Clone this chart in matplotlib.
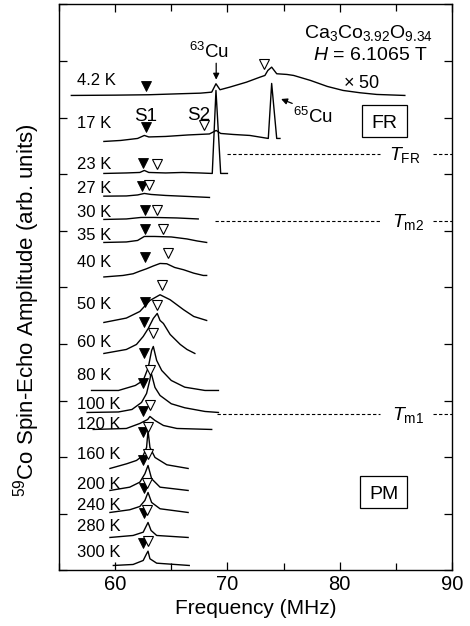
import matplotlib
matplotlib.use('Agg')
import matplotlib.pyplot as plt
from matplotlib.patches import Rectangle
from matplotlib.ticker import MultipleLocator, NullFormatter

plt.rcParams['font.family'] = ['Liberation Sans', 'DejaVu Sans']
plt.rcParams['mathtext.fontset'] = 'custom'
plt.rcParams['mathtext.rm'] = 'Liberation Sans'
plt.rcParams['mathtext.it'] = 'Liberation Sans:italic'
plt.rcParams['mathtext.bf'] = 'Liberation Sans:bold'
plt.rcParams['mathtext.sf'] = 'Liberation Sans'

# ---- spectra: frequency (MHz) and echo amplitude above each trace's baseline ----
temps = ['4.2 K', '17 K', '23 K', '27 K', '30 K', '35 K', '40 K', '50 K', '60 K',
         '80 K', '100 K', '120 K', '160 K', '200 K', '240 K', '280 K', '300 K']
baselines = [475, 432, 397, 373, 351, 328, 293, 248, 217,
             180, 158, 141, 102, 80, 58, 33, 5]

f_4K2 = [56.1, 60.0, 63.0, 65.8, 67.6, 68.6, 68.98, 69.34, 70.2, 71.7, 72.9, 73.34,
         73.6, 73.94, 74.39, 75.3, 75.9, 77.4, 78.9, 80.3, 81.8, 83.3, 85.8]
a_4K2 = [0, 0.3, 0.7, 1.7, 2.3, 3.3, 11.7, 5.7, 8.3, 13.3, 18.3, 20,
         25, 28.3, 21.7, 21, 20, 15, 9, 5, 2.7, 1, 0]

f_17K = [59.0, 60.5, 62.0, 62.6, 63.0, 64.5, 66.5, 68.4, 69.0, 69.4, 70.5, 72.0,
         73.64, 73.94, 74.39, 74.68]
a_17K = [-3, -2, 0, 3, 1.5, 2, 3.5, 4.5, 8, 5, 4, 3, 0, 55, 0, 0]

f_23K = [59.0, 61.0, 62.2, 62.6, 63.0, 64.5, 66.0, 67.5, 68.65, 68.98, 69.4, 70.0]
a_23K = [0, 0.5, 1, 3, 1, 0.5, 1, 0.5, 0, 83, 0, 0]

f_27K = [59.0, 61.0, 62.0, 62.6, 63.2, 64.5, 66.5, 68.4]
a_27K = [1.3, 1.5, 2.5, 4, 3, 2, 1, 0]

f_30K = [59.0, 61.0, 62.3, 63.5, 65.5, 67.4]
a_30K = [0, 0.5, 2, 2, 1.5, 0.5]

f_35K = [59.0, 61.0, 62.0, 62.6, 63.5, 65.0, 66.4, 67.3, 68.15]
a_35K = [0, 0.5, 2, 6, 6, 5.5, 3.5, 1.5, 0]

f_40K = [59.0, 60.7, 61.6, 62.2, 62.8, 63.4, 64.0, 64.6, 65.3, 66.1, 67.0, 67.85, 68.15]
a_40K = [0.5, 2, 3.7, 6.3, 8.7, 11.5, 14, 13.7, 10, 7.7, 4.3, 2, 2]

f_50K = [59.0, 61.0, 62.2, 63.1, 64.0, 64.9, 66.1, 67.0, 68.15]
a_50K = [0, 4.4, 11, 22, 27.7, 22.7, 12.7, 6, 2]

f_60K = [59.0, 61.0, 61.9, 62.5, 62.95, 63.4, 63.75, 64.0, 64.3, 64.9, 65.8, 66.4, 67.1]
a_60K = [0, 4, 9, 17, 25, 35, 40, 33, 30, 19, 9, 4, 0]

f_80K = [57.9, 60.3, 61.8, 62.5, 62.95, 63.25, 63.4, 63.7, 64.15, 65.0, 66.2, 68.0, 69.2]
a_80K = [0, 0, 5, 10, 23, 40, 44, 30, 20, 10, 3.3, 0, 0]

f_100K = [57.5, 60.3, 61.5, 62.35, 62.8, 63.1, 63.2, 63.55, 64.0, 65.0, 66.2, 68.0, 69.2]
a_100K = [0, 0.5, 3, 10, 19, 33, 40, 25, 17, 8.7, 4.7, 1, 0]

f_120K = [58.05, 61.0, 62.2, 62.9, 63.1, 63.55, 64.3, 65.5, 68.6]
a_120K = [0, 1, 6, 10, 13, 9, 4, 1, 0]

f_160K = [59.54, 61.03, 61.9, 62.5, 62.8, 62.93, 63.1, 63.55, 64.6, 66.5]
a_160K = [0, 4.7, 8, 13, 21, 38, 21, 11, 3.7, 0]

f_200K = [59.54, 61.3, 62.2, 62.65, 62.93, 63.25, 64.0, 66.5]
a_200K = [0, 3.3, 8.3, 16.7, 25, 11.7, 3.3, 0]

f_240K = [59.54, 61.3, 62.2, 62.65, 62.93, 63.25, 64.0, 66.5]
a_240K = [0, 2.7, 6, 12, 20, 10, 3.7, 0]

f_280K = [59.54, 61.6, 62.5, 62.93, 63.2, 63.7, 66.5]
a_280K = [0, 2, 5.3, 15, 7, 2, 0]

f_300K = [59.84, 61.6, 62.5, 62.8, 62.93, 63.1, 63.7, 66.6]
a_300K = [0, 1, 5, 11.7, 14.3, 6.7, 2.3, 0]

# S1 (filled) and S2 (open) line positions
s1_freq = [62.75, 62.75, 62.5, 62.36, 62.66, 62.66, 62.66, 62.66, 62.57,
           62.57, 62.48, 62.48, 62.48, 62.48, 62.57, 62.57, 62.48]
s1_level = [484, 443, 407, 384, 360, 341, 313, 268, 248,
            217, 187, 159, 138, 110, 82, 57, 27]
s2_freq = [73.25, 67.91, 63.7, 63.04, 63.7, 64.23, 64.74, 64.17, 63.73,
           63.37, 63.10, 63.10, 62.93, 62.93, 62.84, 62.84, 62.93]
s2_level = [506, 445, 406, 385, 360, 341, 317, 285, 265,
            237, 200, 165, 143, 116, 87, 60, 29]

freq_ticks = [60, 70, 80, 90]

# transition-temperature guide lines
t_names = [r'$T_{\rm FR}$', r'$T_{\rm m2}$', r'$T_{\rm m1}$']
t_levels = [416.5, 349.5, 156.7]
t_starts = [69.96, 68.9, 69.04]

freqs = [f_4K2, f_17K, f_23K, f_27K, f_30K, f_35K, f_40K, f_50K, f_60K,
         f_80K, f_100K, f_120K, f_160K, f_200K, f_240K, f_280K, f_300K]
amps = [a_4K2, a_17K, a_23K, a_27K, a_30K, a_35K, a_40K, a_50K, a_60K,
        a_80K, a_100K, a_120K, a_160K, a_200K, a_240K, a_280K, a_300K]

label_y = [485, 442, 401, 377.5, 353, 330, 303, 261, 223,
           190, 161, 141, 111, 81, 60, 39, 13]

fig = plt.figure(figsize=(4.70, 6.26), dpi=100)
ax = fig.add_axes([0.1255, 0.0887, 0.8362, 0.9042])

for f, a, base in zip(freqs, amps, baselines):
    ax.plot(f, [base + v for v in a], color='black', lw=1.0)

ax.plot(s1_freq, s1_level, linestyle='none', marker='v', ms=6.5,
        mfc='black', mec='black', mew=0.6)
ax.plot(s2_freq, s2_level, linestyle='none', marker='v', ms=6.5,
        mfc='white', mec='black', mew=0.8)

for name, y in zip(temps, label_y):
    ax.text(56.6, y, name, ha='left', va='baseline', fontsize=12)

for name, lev, start in zip(t_names, t_levels, t_starts):
    ax.plot([start, 83.55], [lev, lev], color='black', lw=0.8, ls=(0, (3, 2)))
    ax.plot([88.3, 90.0], [lev, lev], color='black', lw=0.8, ls=(0, (3, 2)))
    ax.text(84.4 if 'FR' in name else 84.7, lev - 6.5, name, ha='left',
            va='baseline', fontsize=14)

# annotations
ax.text(88.3, 532, r'Ca$_3$Co$_{3.92}$O$_{9.34}$', ha='right', va='baseline', fontsize=14)
ax.text(87.8, 510, r'$H$ = 6.1065 T', ha='right', va='baseline', fontsize=14)
ax.text(68.4, 512, r'$^{63}$Cu', ha='center', va='baseline', fontsize=13.5)
ax.annotate('', xy=(69.0, 488), xytext=(69.0, 510),
            arrowprops=dict(arrowstyle='-|>', color='black', lw=0.9, mutation_scale=9))
ax.text(75.8, 447, r'$^{65}$Cu', ha='left', va='baseline', fontsize=13.5)
ax.annotate('', xy=(74.55, 472.5), xytext=(76.0, 466),
            arrowprops=dict(arrowstyle='-|>', color='black', lw=0.9, mutation_scale=9))
ax.text(80.3, 482, r'$\times$ 50', ha='left', va='baseline', fontsize=13)
ax.text(62.75, 449, 'S1', ha='center', va='baseline', fontsize=13.5)
ax.text(67.47, 450, 'S2', ha='center', va='baseline', fontsize=13.5)

for label, x0, x1, y0, y1 in [('FR', 81.98, 85.99, 433, 465), ('PM', 81.8, 86.0, 62, 94)]:
    ax.add_patch(Rectangle((x0, y0), x1 - x0, y1 - y0, fill=False, ec='black', lw=0.9))
    ax.text((x0 + x1) / 2, (y0 + y1) / 2, label, ha='center', va='center_baseline',
            fontsize=14)

ax.set_xlim(55, 90)
ax.set_ylim(0, 566)
ax.set_xticks(freq_ticks)
ax.xaxis.set_minor_locator(MultipleLocator(5))
ax.yaxis.set_major_locator(MultipleLocator(56.6))
ax.yaxis.set_major_formatter(NullFormatter())
ax.tick_params(which='both', direction='in', top=True, right=True, width=0.9)
ax.tick_params(which='major', length=5.5, labelsize=14.5)
ax.tick_params(which='minor', length=5)
for sp in ax.spines.values():
    sp.set_linewidth(1.0)

ax.set_xlabel('Frequency (MHz)', fontsize=15, labelpad=3)
ax.set_ylabel(r'$^{59}$Co Spin-Echo Amplitude (arb. units)', fontsize=16)
ax.yaxis.set_label_coords(-0.043, 0.46)

fig.savefig('out.png', dpi=100)
